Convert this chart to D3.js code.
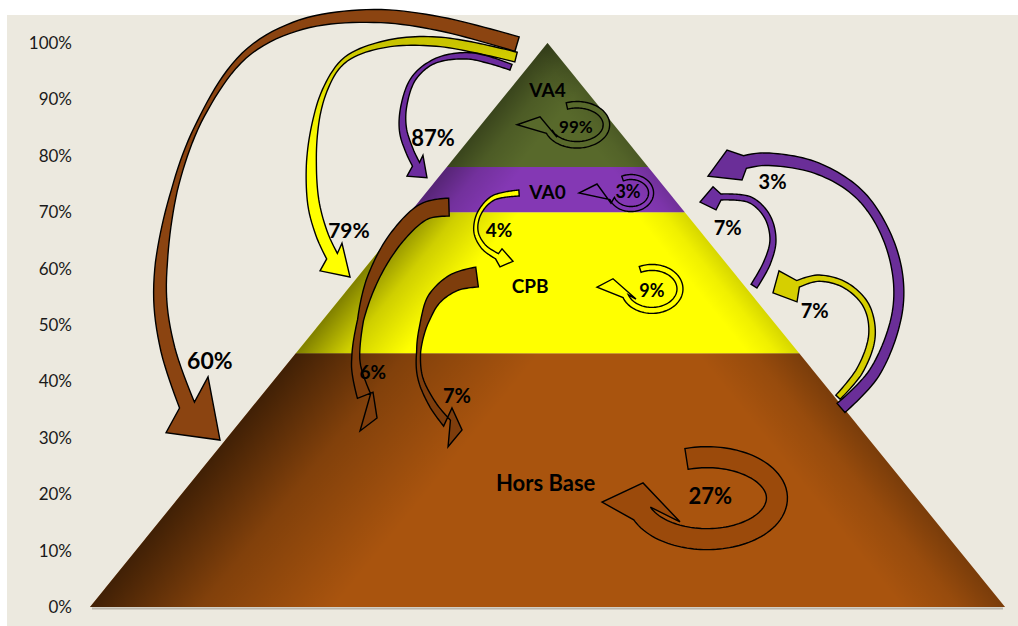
<!DOCTYPE html>
<html><head><meta charset="utf-8">
<script src="https://cdn.jsdelivr.net/npm/d3@7"></script>
<style>
html,body{margin:0;padding:0;background:#fff;}
svg{display:block;}
</style></head><body>
<svg id="chart" width="1018" height="626"></svg>
<script>
// ---------------- DATA ----------------
const levels = ["Hors Base", "CPB", "VA0", "VA4"];
const levelBounds = [0, 45, 70, 78, 100];           // % of the pyramid height
const tickValues = [0, 10, 20, 30, 40, 50, 60, 70, 80, 90, 100];
const flowFrom  = ["VA4", "VA4", "VA4", "VA4", "VA0", "VA0", "VA0", "CPB", "CPB", "CPB", "Hors Base", "Hors Base", "Hors Base"];
const flowTo    = ["Hors Base", "CPB", "VA0", "VA4", "VA0", "CPB", "Hors Base", "Hors Base", "CPB", "VA0", "VA0", "CPB", "Hors Base"];
const flowValue = [60, 79, 87, 99, 3, 4, 6, 7, 9, 7, 3, 7, 27];

// ---------------- LAYOUT / STYLE (data units: u = horizontal pyramid units, p = %) ----------------
const levelColors = ["#a9540e", "#ffff00", "#8438b4", "#58692b"];
const levelLabelPos = [[-0.2, 22.0], [-1.9, 56.9], [0, 73.6], [0, 91.7]];
const levelLabelSize = [22, 19, 19, 19];
const shadeL = [[190, 0.62], [85, 0.5], [60, 0.35], [55, 0.35]];
const shadeR = [[80, 0.28], [40, 0.16], [30, 0.15], [30, 0.15]];

const flowShapes = [
  {type: "curve", fill: "#8b4411",
   pts: [[-3.33,99.8],[-11.75,103.4],[-19.07,104.8],[-27.05,103.2],[-33.06,97.9],[-37.98,86.3],[-41.04,72.2],[-42.35,56.2],[-41.48,45.6],[-39.4,35.8]],
   widths: [15,14,13,10,6,4,6,12,14,16],
   head: [[-41.69,30.9],[-35.79,29.6],[-37.10,40.8]], label: [-36.9,43.6], size: 23},
  {type: "curve", fill: "url(#g79)",
   pts: [[-3.44,97.5],[-11.75,100.2],[-17.76,99.8],[-22.13,97.0],[-24.32,91.7],[-25.63,82.8],[-25.63,72.2],[-24.64,66.0],[-23.55,62.2]],
   widths: [10,10,9,6,4,6,10,12,12],
   head: [[-24.86,59.6],[-21.58,58.5],[-22.46,64.5]], label: [-21.7,66.8], size: 21},
  {type: "curve", fill: "#6c2c9e",
   pts: [[-3.99,95.7],[-8.47,97.7],[-12.3,96.8],[-14.59,93.8],[-15.68,89.0],[-15.79,84.6],[-15.03,80.7],[-14.37,78.5]],
   widths: [6,7,6,4,5,6,8,8],
   head: [[-15.36,76.4],[-13.17,76.1],[-13.61,80.1]], label: [-12.5,83.2], size: 22},
  {type: "loop", fill: "#58692b", center: [3.22,85.5], rx: 3.22, ry: 3.55, a0: -110, a1: 160, width: 6.5,
   head: [[-3.33,85.5],[-0.82,86.9],[1.04,83.3]], label: [3.1,85.1], size: 17},
  {type: "loop", fill: "#8438b4", center: [9.13,73.4], rx: 2.19, ry: 2.84, a0: -115, a1: 160, width: 5,
   head: [[3.44,73.4],[5.41,75.0],[6.94,71.6]], label: [8.8,73.6], size: 18},
  {type: "curve", fill: "#ffff00",
   pts: [[-3.11,73.4],[-5.96,72.5],[-7.49,69.7],[-7.81,66.5],[-6.94,63.8],[-5.52,62.2]],
   widths: [6,5,4,4,5,6],
   head: [[-4.97,63.5],[-3.77,61.3],[-5.19,60.3]], label: [-5.3,66.8], size: 19},
  {type: "curve", fill: "#7e3d0c",
   pts: [[-10.77,70.9],[-13.39,70.2],[-16.45,65.6],[-19.07,58.3],[-20.49,50.4],[-20.93,42.9],[-20.05,37.4]],
   widths: [18,16,14,11,6,8,14],
   head: [[-19.07,38.1],[-18.63,33.5],[-20.49,31.2]], label: [-19.1,41.7], size: 19},
  {type: "curve", fill: "#7e3d0c",
   pts: [[-7.70,58.5],[-10.11,57.6],[-12.30,54.8],[-13.28,51.4],[-14.04,46.1],[-13.93,40.8],[-12.51,35.8],[-10.98,32.6]],
   widths: [20,17,13,7,4,5,7,9],
   head: [[-10.44,35.3],[-9.34,31.4],[-10.87,28.4]], label: [-9.9,37.4], size: 20},
  {type: "loop", fill: "#ffff00", center: [11.42,56.4], rx: 3.06, ry: 3.81, a0: -115, a1: 160, width: 6,
   head: [[5.41,56.7],[7.16,58.2],[9.67,54.6]], label: [11.4,56.2], size: 18},
  {type: "curve", fill: "#6d2fa0",
   pts: [[22.57,56.9],[23.99,61.0],[24.64,65.1],[23.99,69.3],[22.13,72.2],[18.96,72.7]],
   widths: [7,7,6,6,6,6],
   head: [[18.09,74.5],[16.67,71.8],[18.42,70.4]], label: [19.7,67.2], size: 20},
  {type: "curve", fill: "#6a2e98",
   pts: [[32.08,35.3],[35.79,41.7],[38.31,53.2],[37.65,63.3],[34.37,72.7],[29.45,77.8],[23.77,79.4],[21.58,78.9]],
   widths: [12,11,10,10,9,10,12,13],
   head: [[19.62,81.0],[17.54,76.4],[21.26,75.7]], label: [24.6,75.4], size: 20},
  {type: "curve", fill: "#d6cf00",
   pts: [[31.75,37.2],[34.15,42.0],[35.46,48.2],[34.81,53.5],[32.51,57.1],[29.56,58.3],[27.38,57.3]],
   widths: [6,7,7,6,6,6,7],
   head: [[25.3,59.6],[24.64,55.7],[27.27,54.1]], label: [29.2,52.5], size: 20},
  {type: "loop", fill: "#9b4a0b", center: [17.43,19.3], rx: 7.65, ry: 7.27, a0: -107, a1: 158, width: 21,
   head: [[5.96,18.6],[10.44,22.0],[14.48,15.1]], label: [17.8,19.7], size: 22}
];

// ---------------- CHART ----------------
const W = 1018, H = 626;
const FONT = "Lato, 'Open Sans', sans-serif";
const svg = d3.select("#chart");
const defs = svg.append("defs");

svg.append("rect").attr("x", 0).attr("y", 0).attr("width", W).attr("height", H).attr("fill", "#ffffff");
svg.append("rect").attr("x", 7).attr("y", 15).attr("width", W - 7).attr("height", H - 15).attr("fill", "#ece9df");

const x = d3.scaleLinear().domain([-50, 50]).range([90, 1005]);
const y = d3.scaleLinear().domain([0, 100]).range([607, 43]);

// axis
const gA = svg.append("g").attr("transform", "translate(72,0)")
  .call(d3.axisLeft(y).tickValues(tickValues).tickSize(0).tickPadding(0).tickFormat(d => d + "%"));
gA.select(".domain").remove();
gA.attr("font-family", FONT).attr("font-size", 17);
gA.selectAll("text").attr("fill", "#1a1a1a");

// pyramid
const halfW = p => 50 * (1 - p / 100);
const bandData = levels.map((name, i) => ({name, i, lo: levelBounds[i], hi: levelBounds[i + 1]}));
const bandPts = b => [[x(-halfW(b.lo)), y(b.lo)], [x(halfW(b.lo)), y(b.lo)], [x(halfW(b.hi)), y(b.hi)], [x(-halfW(b.hi)), y(b.hi)]];

// base shadow
svg.append("line").attr("x1", x(-50) + 2).attr("x2", x(50) - 2).attr("y1", y(0) + 1.5).attr("y2", y(0) + 1.5)
  .attr("stroke", "#9a968c").attr("stroke-width", 2).attr("opacity", 0.6);

// edge normals
const Lx0 = x(-50), Ly0 = y(0), Rx0 = x(50), Ry0 = y(0), Ax = x(0), Ay = y(100);
function norm(a, b) { const l = Math.hypot(a, b); return [a / l, b / l]; }
const dL = norm(Ax - Lx0, Ay - Ly0), nL = [-dL[1], dL[0]];
const dR = norm(Ax - Rx0, Ay - Ry0), nR = [dR[1], -dR[0]];

function shadeGrad(id, x0, y0, n, w, op) {
  const g = defs.append("linearGradient").attr("id", id).attr("gradientUnits", "userSpaceOnUse")
    .attr("x1", x0).attr("y1", y0).attr("x2", x0 + n[0] * w).attr("y2", y0 + n[1] * w);
  g.append("stop").attr("offset", 0).attr("stop-color", "#000").attr("stop-opacity", op);
  g.append("stop").attr("offset", 0.45).attr("stop-color", "#000").attr("stop-opacity", op * 0.38);
  g.append("stop").attr("offset", 1).attr("stop-color", "#000").attr("stop-opacity", 0);
}
bandData.forEach(b => {
  shadeGrad("sl" + b.i, Lx0, Ly0, nL, shadeL[b.i][0], shadeL[b.i][1]);
  shadeGrad("sr" + b.i, Rx0, Ry0, nR, shadeR[b.i][0], shadeR[b.i][1]);
});
const gP = svg.append("g");
gP.selectAll("polygon.band").data(bandData).join("polygon").attr("class", "band")
  .attr("points", b => bandPts(b).join(" ")).attr("fill", b => levelColors[b.i]);
gP.selectAll("polygon.sl").data(bandData).join("polygon").attr("class", "sl")
  .attr("points", b => bandPts(b).join(" ")).attr("fill", b => `url(#sl${b.i})`);
gP.selectAll("polygon.sr").data(bandData).join("polygon").attr("class", "sr")
  .attr("points", b => bandPts(b).join(" ")).attr("fill", b => `url(#sr${b.i})`);

// yellow arrow gradient
const g79 = defs.append("linearGradient").attr("id", "g79").attr("gradientUnits", "userSpaceOnUse")
  .attr("x1", 0).attr("x2", 0).attr("y1", y(100)).attr("y2", y(80));
g79.append("stop").attr("offset", 0).attr("stop-color", "#c9c400");
g79.append("stop").attr("offset", 0.6).attr("stop-color", "#eeee00");
g79.append("stop").attr("offset", 1).attr("stop-color", "#ffff00");

// arrow builder
const tmp = svg.append("path").attr("fill", "none").attr("stroke", "none");
const P = d => [x(d[0]), y(d[1])];
function widthAt(ws, f) {
  const pos = f * (ws.length - 1), j = Math.min(Math.floor(pos), ws.length - 2), t = pos - j;
  return ws[j] * (1 - t) + ws[j + 1] * t;
}
function buildShape(ptsPx, widths, headPx, curve) {
  tmp.attr("d", d3.line().curve(curve)(ptsPx));
  const node = tmp.node(), L = node.getTotalLength(), N = 90;
  const s = d3.range(N + 1).map(i => { const q = node.getPointAtLength(L * i / N); return [q.x, q.y]; });
  const left = [], right = [];
  s.forEach((p, i) => {
    const a = s[Math.max(0, i - 1)], b = s[Math.min(N, i + 1)];
    const t = norm(b[0] - a[0], b[1] - a[1]), n = [-t[1], t[0]];
    const w = widthAt(widths, i / N) / 2;
    left.push([p[0] + n[0] * w, p[1] + n[1] * w]);
    right.push([p[0] - n[0] * w, p[1] - n[1] * w]);
  });
  let head = headPx.slice();
  const lN = left[N];
  const dist = (a, b) => Math.hypot(a[0] - b[0], a[1] - b[1]);
  if (dist(head[0], lN) > dist(head[head.length - 1], lN)) head.reverse();
  const poly = left.concat(head, right.reverse());
  return "M" + poly.map(p => p[0].toFixed(2) + "," + p[1].toFixed(2)).join("L") + "Z";
}

const flows = flowValue.map((v, i) => ({from: flowFrom[i], to: flowTo[i], value: v, shape: flowShapes[i]}));
const gF = svg.append("g");
flows.forEach(f => {
  const sh = f.shape;
  let d;
  if (sh.type === "curve") {
    d = buildShape(sh.pts.map(P), sh.widths, sh.head.map(P), d3.curveCatmullRom.alpha(0.5));
  } else {
    const cx = x(sh.center[0]), cy = y(sh.center[1]);
    const rx = x(sh.center[0] + sh.rx) - cx, ry = cy - y(sh.center[1] + sh.ry);
    const pts = d3.range(0, 61).map(k => {
      const a = (sh.a0 + (sh.a1 - sh.a0) * k / 60) * Math.PI / 180;
      return [cx + rx * Math.cos(a), cy + ry * Math.sin(a)];
    });
    d = buildShape(pts, [sh.width, sh.width], sh.head.map(P), d3.curveLinear);
  }
  gF.append("path").attr("d", d).attr("fill", sh.fill).attr("stroke", "#000")
    .attr("stroke-width", 1.4).attr("stroke-linejoin", "miter");
});
tmp.remove();

// labels
const gT = svg.append("g").attr("font-family", FONT).attr("font-weight", "bold").attr("fill", "#000")
  .attr("text-anchor", "middle");
gT.selectAll("text.lvl").data(bandData).join("text").attr("class", "lvl")
  .attr("x", b => x(levelLabelPos[b.i][0])).attr("y", b => y(levelLabelPos[b.i][1]))
  .attr("dy", "0.36em").attr("font-size", b => levelLabelSize[b.i]).text(b => b.name);
gT.selectAll("text.flow").data(flows).join("text").attr("class", "flow")
  .attr("x", f => x(f.shape.label[0])).attr("y", f => y(f.shape.label[1]))
  .attr("dy", "0.36em").attr("font-size", f => f.shape.size).text(f => f.value + "%");
</script>
</body></html>
